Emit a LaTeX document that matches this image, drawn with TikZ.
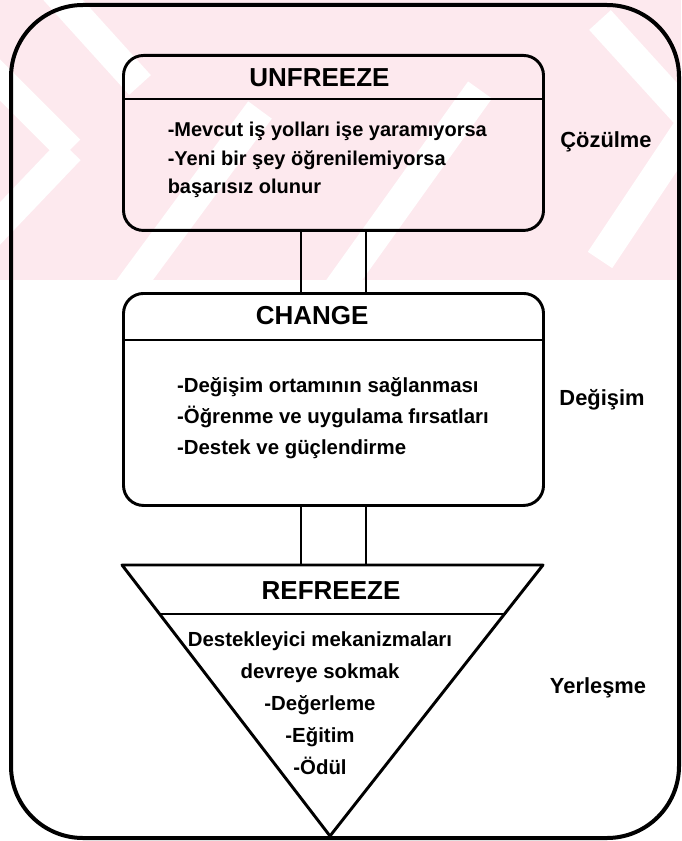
\documentclass[tikz,border=0pt]{standalone}
\usepackage{fontspec}
\setmainfont{Liberation Sans}
\usetikzlibrary{calc}
\usetikzlibrary{positioning}

\definecolor{wmpink}{RGB}{253,233,238}

\begin{document}
\begin{tikzpicture}[x=0.75pt,y=-0.75pt,semithick,inner sep=1pt,
    stage/.style={draw,line width=2.2pt,rounded corners=15pt,minimum width=315pt,anchor=north},
    title/.style={font=\bfseries\fontsize{19.5}{21}\selectfont},
    body/.style={font=\bfseries\fontsize{15}{21.4}\selectfont,align=left},
    side/.style={font=\bfseries\fontsize{16.4}{18}\selectfont},
    link/.style={line width=2pt}]
        \useasboundingbox (0,0) rectangle (681,841);
        % watermark of the scanned page
        \begin{scope}
          \clip (0,0) rectangle (681,280);
          \fill[wmpink] (0,0) rectangle (681,280);
          \foreach \xa/\ya/\xb/\yb in {45/-20/140/85, -20/60/70/150, 70/150/-30/255,
                                        120/300/260/110, 330/300/480/90, 600/20/700/130, 700/110/600/260}
            \draw[white,line width=22pt] (\xa,\ya) -- (\xb,\yb);
        \end{scope}
        \draw[line width=3pt,rounded corners=54pt] (11,5) rectangle (679,838);

        \node[stage,minimum height=131.25pt] (unfreeze) at (333.5,54) {};
        \node[stage,minimum height=159pt] (change) at (333.5,292) {};
        \coordinate (rtl) at (122,565);
        \coordinate (rtr) at (543,565);
        \coordinate (rapex) at (330,836);
        \draw[line width=2.2pt,line join=round] (rtl) -- (rtr) -- (rapex) -- cycle;

        \draw[line width=2pt] (unfreeze.north west) ++(0,45) -- ++(420,0);
        \draw[line width=2pt] (change.north west) ++(0,48) -- ++(420,0);
        \draw[line width=2pt] ($(rtl)!0.181!(rapex)$) -- ($(rtr)!0.181!(rapex)$);

        \node[title] (utitle) at ([xshift=-10.5pt]unfreeze.north) [below=9.5pt] {UNFREEZE};
        \node[title] (ctitle) at ([xshift=-16pt]change.north) [below=9.5pt] {CHANGE};
        \node[title] (rtitle) at (331,565) [below=11pt] {REFREEZE};

        \node[body,anchor=north west] (ubody) at (unfreeze.north west) [below right=50pt and 33pt] {-Mevcut iş yolları işe yaramıyorsa\\-Yeni bir şey öğrenilemiyorsa\\ başarısız olunur};
        \node[body,anchor=north west,font=\bfseries\fontsize{15.3}{23.25}\selectfont] (cbody) at (change.north west) [below right=62.5pt and 40pt] {-Değişim ortamının sağlanması\\-Öğrenme ve uygulama fırsatları\\-Destek ve güçlendirme};
        \node[body,align=center,font=\bfseries\fontsize{15.3}{24}\selectfont] (rbody) at (320,565) [below=49pt] {Destekleyici mekanizmaları\\devreye sokmak\\-Değerleme\\-Eğitim\\-Ödül};

        \draw[link] ([xshift=-24.5pt]unfreeze.south) -- ([xshift=-24.5pt]change.north);
        \draw[link] ([xshift=24.25pt]unfreeze.south) -- ([xshift=24.25pt]change.north);
        \draw[link] ([xshift=-24.5pt]change.south) -- ([xshift=-24.5pt]change.south |- rtl);
        \draw[link] ([xshift=24.25pt]change.south) -- ([xshift=24.25pt]change.south |- rtl);

        \node[side] (lunfreeze) at (606,142) {Çözülme};
        \node[side] (lchange) at (602,400) {Değişim};
        \node[side] (lrefreeze) at (598,688) {Yerleşme};
\end{tikzpicture}
\end{document}
